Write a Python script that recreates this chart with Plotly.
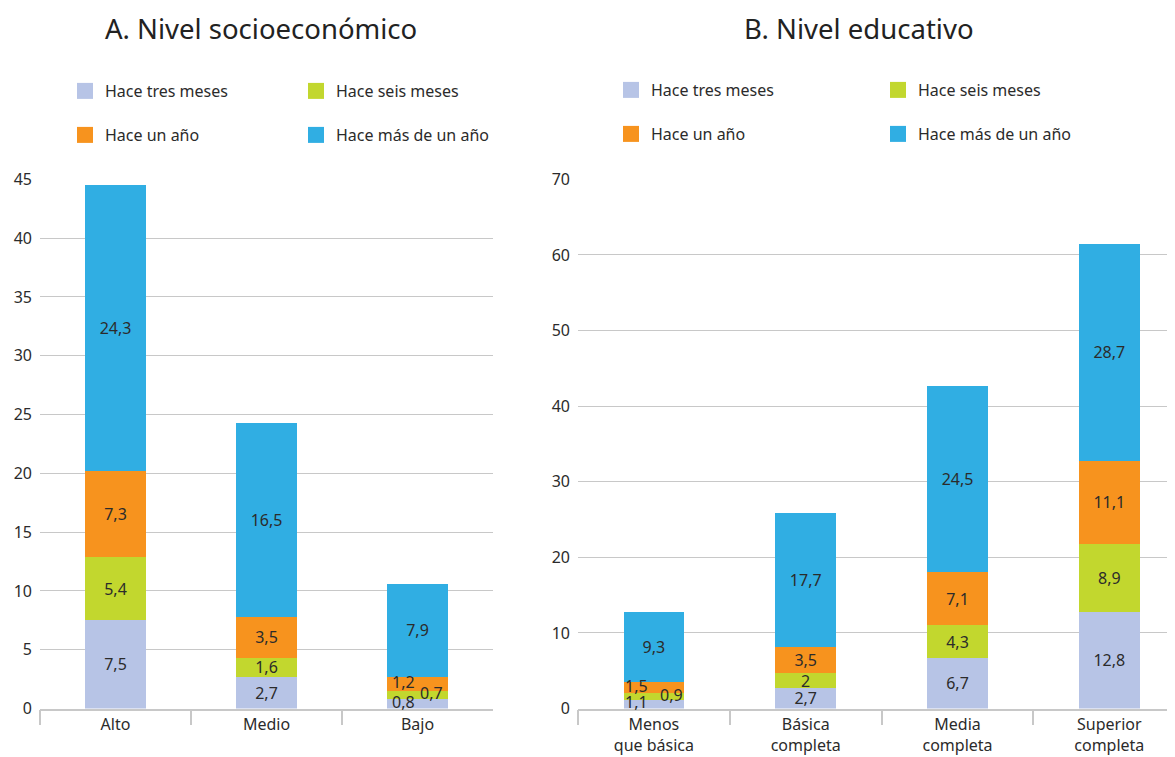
import plotly.graph_objects as go

cats_a = ["Alto", "Medio", "Bajo"]
cats_b = ["Menos<br>que básica", "Básica<br>completa", "Media<br>completa", "Superior<br>completa"]
series = ["Hace tres meses", "Hace seis meses", "Hace un año", "Hace más de un año"]
tres_a = [7.5, 2.7, 0.8]
seis_a = [5.4, 1.6, 0.7]
anio_a = [7.3, 3.5, 1.2]
mas_a = [24.3, 16.5, 7.9]
tres_b = [1.1, 2.7, 6.7, 12.8]
seis_b = [0.9, 2, 4.3, 8.9]
anio_b = [1.5, 3.5, 7.1, 11.1]
mas_b = [9.3, 17.7, 24.5, 28.7]
colors = ["#b7c4e6", "#c2d72e", "#f7931e", "#30aee3"]
yticks_a = list(range(0, 50, 5))
yticks_b = list(range(0, 80, 10))
titles = ["A. Nivel socioeconómico", "B. Nivel educativo"]

W, H = 1175, 757
OFF = 8  # page body margin
FONT = "Noto Sans"
TXT = "#2b2b2b"
GRID = "#c8c8c8"
y_dom = [(H - (708.5 - OFF)) / H, (H - (179.3 - OFF)) / H]
plot_h = (y_dom[1] - y_dom[0]) * H

xa0, xa1 = 40 - OFF, 493 - OFF
xb0 = 578 - OFF
cat_px_b = 151.8
xb_range_end = (W - xb0) / cat_px_b - 0.5


def fmt(v):
    return ("%g" % v).replace(".", ",")


fig = go.Figure()
annotations = []

panels = [
    dict(cats=cats_a, data=[tres_a, seis_a, anio_a, mas_a], xa="x", ya="y",
         ymax=45, legs=["legend", "legend", "legend2", "legend2"], shift=(-14, 14)),
    dict(cats=cats_b, data=[tres_b, seis_b, anio_b, mas_b], xa="x2", ya="y2",
         ymax=70, legs=["legend3", "legend3", "legend4", "legend4"], shift=(-17, 18)),
]

for p in panels:
    scale = plot_h / p["ymax"]
    bases = [0.0] * len(p["cats"])
    for si, vals in enumerate(p["data"]):
        texts = []
        for ci, v in enumerate(vals):
            if v * scale < 14.5:
                texts.append("")
                annotations.append(dict(
                    x=p["cats"][ci], y=bases[ci] + v / 2, xref=p["xa"], yref=p["ya"],
                    text=fmt(v), showarrow=False,
                    xshift=p["shift"][1] if si == 1 else p["shift"][0], yshift=2,
                    font=dict(family=FONT, size=16, color=TXT)))
            else:
                texts.append(fmt(v))
            bases[ci] += v
        fig.add_trace(go.Bar(
            x=p["cats"], y=vals, name=series[si], marker=dict(color=colors[si], line=dict(width=0)),
            text=texts, textposition="inside", insidetextanchor="middle", textangle=0,
            textfont=dict(family=FONT, size=16, color=TXT), cliponaxis=False,
            xaxis=p["xa"], yaxis=p["ya"], showlegend=False, hoverinfo="skip"))
    # legend proxies
    for si in range(4):
        fig.add_trace(go.Scatter(
            x=[None], y=[None], mode="markers", name=series[si],
            marker=dict(symbol="square", size=20, color=colors[si]),
            xaxis=p["xa"], yaxis=p["ya"], legend=p["legs"][si], showlegend=True))

for ti, tx in enumerate([261, 859]):
    annotations.append(dict(x=(tx - OFF) / W, y=1 - (30 - OFF - 1) / H, xref="paper", yref="paper",
                            text=titles[ti], xanchor="center", yanchor="middle", showarrow=False,
                            font=dict(family=FONT, size=27.5, color="#222")))

axis_x = dict(showgrid=False, showline=True, linecolor=GRID, linewidth=1.5, ticks="outside",
              tickson="boundaries", ticklen=15, tickcolor=GRID, tickwidth=1.5,
              tickfont=dict(family=FONT, size=16, color=TXT), ticklabelstandoff=1,
              automargin=False, fixedrange=True)
axis_y = dict(showgrid=True, gridcolor=GRID, gridwidth=1, zeroline=False, showline=False,
              ticks="", tickfont=dict(family=FONT, size=16, color=TXT), ticklabelstandoff=7,
              automargin=False)

leg_common = dict(orientation="h", font=dict(family=FONT, size=16, color=TXT),
                  bgcolor="rgba(0,0,0,0)", entrywidthmode="pixels", itemsizing="trace",
                  traceorder="normal",
                  xanchor="left", yanchor="middle", itemclick=False)

fig.update_layout(
    width=W, height=H, margin=dict(l=0, r=0, t=0, b=0, autoexpand=False),
    paper_bgcolor="white", plot_bgcolor="white",
    barmode="stack", bargap=0.6,
    uniformtext=dict(minsize=16, mode="show"),
    showlegend=True,
    font=dict(family=FONT, color=TXT),
    xaxis=dict(axis_x, domain=[xa0 / W, xa1 / W], range=[-0.5, 2.5], anchor="y"),
    yaxis=dict(axis_y, domain=y_dom, range=[0, 45], tickvals=yticks_a, anchor="x"),
    xaxis2=dict(axis_x, domain=[xb0 / W, 1.0], range=[-0.5, xb_range_end], anchor="y2"),
    yaxis2=dict(axis_y, domain=y_dom, range=[0, 70], tickvals=yticks_b, anchor="x2"),
    legend=dict(leg_common, x=57 / W, y=1 - 83 / H, entrywidth=186),
    legend2=dict(leg_common, x=57 / W, y=1 - 127 / H, entrywidth=186),
    legend3=dict(leg_common, x=603 / W, y=1 - 82 / H, entrywidth=222),
    legend4=dict(leg_common, x=603 / W, y=1 - 126 / H, entrywidth=222),
    annotations=annotations,
)

fig.write_html("out.html")
